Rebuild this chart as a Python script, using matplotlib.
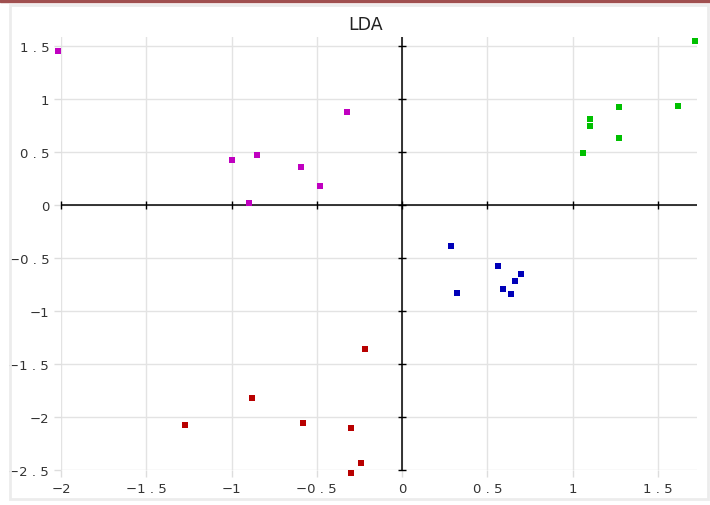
import matplotlib
matplotlib.use("Agg")
import matplotlib.pyplot as plt
from matplotlib.patches import Rectangle

# LDA projections, one list per class
magenta_x = [-2.02, -0.32, -1.00, -0.85, -0.59, -0.48, -0.90]
magenta_y = [1.45, 0.88, 0.42, 0.47, 0.36, 0.18, 0.02]
green_x = [1.72, 1.62, 1.27, 1.10, 1.10, 1.27, 1.06]
green_y = [1.55, 0.93, 0.92, 0.81, 0.75, 0.63, 0.49]
blue_x = [0.29, 0.32, 0.56, 0.70, 0.66, 0.59, 0.64]
blue_y = [-0.39, -0.83, -0.58, -0.65, -0.72, -0.79, -0.84]
red_x = [-0.22, -0.88, -1.27, -0.58, -0.30, -0.24, -0.30]
red_y = [-1.36, -1.82, -2.08, -2.06, -2.10, -2.43, -2.53]

x_ticks = [-2, -1.5, -1, -0.5, 0, 0.5, 1, 1.5]
y_ticks = [-2.5, -2, -1.5, -1, -0.5, 0, 0.5, 1, 1.5]


def fmt(v):
    s = ("%g" % v).replace("-", "\u2212")
    return " ".join(s).replace("\u2212 ", "\u2212")


fig = plt.figure(figsize=(7.10, 5.06), dpi=100)
# outer frame of the widget
fig.patches.append(Rectangle((10 / 710, 6 / 506), 698 / 710, 494 / 506,
                             transform=fig.transFigure, fill=False,
                             edgecolor="#ececec", linewidth=2))
fig.patches.append(Rectangle((0, 503 / 506), 1, 3 / 506,
                             transform=fig.transFigure, color="#a05050"))

ax = fig.add_axes([61 / 710, 35 / 506, 636 / 710, 433 / 506])
ax.set_xlim(-2, 1.73)
ax.set_ylim(-2.5, 1.585)

ax.set_xticks(x_ticks)
ax.set_yticks(y_ticks)
ax.set_xticklabels([fmt(v) for v in x_ticks])
ax.set_yticklabels([fmt(v) for v in y_ticks])
ax.tick_params(colors="#dddddd", labelcolor="#333333", labelsize=9.5,
               length=5, width=1)
ax.grid(True, color="#e3e3e3", linewidth=1)
ax.set_axisbelow(True)
for s in ax.spines.values():
    s.set_visible(False)

ax.axhline(0, color="black", linewidth=1.1, zorder=2)
ax.axvline(0, color="black", linewidth=1.1, zorder=2)
ax.plot(x_ticks, [0] * len(x_ticks), ls="none", marker="|", ms=6,
        color="black", mew=1, zorder=2, clip_on=False)
ax.plot([0] * len(y_ticks), y_ticks, ls="none", marker="_", ms=6,
        color="black", mew=1, zorder=2, clip_on=False)

kw = dict(marker="s", s=17, linewidths=0, zorder=3, clip_on=False)
ax.scatter(magenta_x, magenta_y, color="#c000c0", **kw)
ax.scatter(green_x, green_y, color="#00c000", **kw)
ax.scatter(blue_x, blue_y, color="#0000b8", **kw)
ax.scatter(red_x, red_y, color="#b80000", **kw)

fig.text(366 / 710, 1 - 25 / 506, "LDA", ha="center", va="center",
         fontsize=12.5, color="#222222")

fig.savefig("out.png", dpi=100)
